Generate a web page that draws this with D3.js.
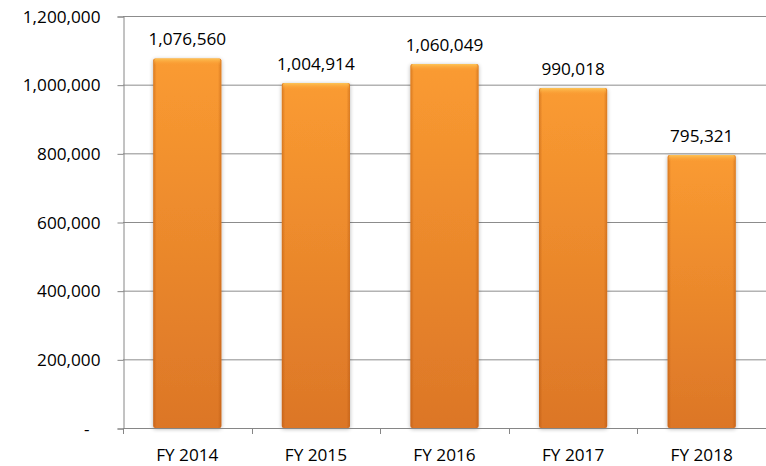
<!DOCTYPE html>
<html>
<head>
<meta charset="utf-8">
<script src="https://cdn.jsdelivr.net/npm/d3@7.9.0/dist/d3.min.js"></script>
<style>
  html, body { margin: 0; padding: 0; background: #fff; }
  svg text { font-family: "Open Sans", "Noto Sans", sans-serif; fill: #000; }
</style>
</head>
<body>
<div id="chart"></div>
<script>
/* ---------- data --------- */
const years  = ['FY 2014', 'FY 2015', 'FY 2016', 'FY 2017', 'FY 2018'];
const totals = [1076560, 1004914, 1060049, 990018, 795321];
const yTicks = [0, 200000, 400000, 600000, 800000, 1000000, 1200000];

/* ---------- layout --------- */
const W = 766, H = 466;
const area = { l: 123, r: 766, t: 16, b: 428 };

const svg = d3.select('#chart').append('svg')
  .attr('width', W).attr('height', H);

const x = d3.scaleBand().domain(years).range([area.l, area.r]).paddingInner(0.47).paddingOuter(0.235);
const xb = d3.scaleBand().domain(years).range([area.l, area.r]);   // tick boundaries
const y = d3.scaleLinear().domain([0, 1200000]).range([area.b, area.t]);

/* ---------- defs: bar shading --------- */
const defs = svg.append('defs');
const vg = defs.append('linearGradient').attr('id', 'barV')
  .attr('x1', 0).attr('y1', 0).attr('x2', 0).attr('y2', 1);
vg.append('stop').attr('offset', '0%').attr('stop-color', '#fa9b31');
vg.append('stop').attr('offset', '100%').attr('stop-color', '#dc7627');

const hg = defs.append('linearGradient').attr('id', 'barH')
  .attr('x1', 0).attr('y1', 0).attr('x2', 1).attr('y2', 0);
hg.append('stop').attr('offset', '0%').attr('stop-color', '#a84a08').attr('stop-opacity', 0.4);
hg.append('stop').attr('offset', '5%').attr('stop-color', '#a84a08').attr('stop-opacity', 0);
hg.append('stop').attr('offset', '95%').attr('stop-color', '#a84a08').attr('stop-opacity', 0);
hg.append('stop').attr('offset', '100%').attr('stop-color', '#a84a08').attr('stop-opacity', 0.4);

const tg = defs.append('linearGradient').attr('id', 'barTop')
  .attr('x1', 0).attr('y1', 0).attr('x2', 0).attr('y2', 1);
tg.append('stop').attr('offset', '0%').attr('stop-color', '#fdc457');
tg.append('stop').attr('offset', '100%').attr('stop-color', '#fa9b31').attr('stop-opacity', 0);

const sh = defs.append('filter').attr('id', 'shadow')
  .attr('x', '-20%').attr('y', '-10%').attr('width', '140%').attr('height', '120%');
sh.append('feGaussianBlur').attr('in', 'SourceAlpha').attr('stdDeviation', 2);
sh.append('feOffset').attr('dx', 0).attr('dy', 1).attr('result', 'b');
sh.append('feComponentTransfer').append('feFuncA').attr('type', 'linear').attr('slope', 0.3);
const mg = sh.append('feMerge');
mg.append('feMergeNode');
mg.append('feMergeNode').attr('in', 'SourceGraphic');

/* ---------- gridlines + axes --------- */
svg.append('g')
  .selectAll('line').data(yTicks.filter(d => d > 0)).join('line')
  .attr('x1', area.l).attr('x2', area.r)
  .attr('y1', d => y(d) + 0.5).attr('y2', d => y(d) + 0.5)
  .attr('stroke', '#8c8c8c').attr('stroke-width', 1);

const yAxis = svg.append('g').attr('transform', `translate(${area.l + 0.5},0.5)`)
  .call(d3.axisLeft(y).tickValues(yTicks).tickSize(6).tickPadding(17)
    .tickFormat(d => d === 0 ? '-' : d3.format(',')(d)));
yAxis.select('.domain').attr('stroke', '#868686');
yAxis.selectAll('.tick line').attr('stroke', '#868686');
yAxis.selectAll('.tick text').attr('font-size', 17.2).attr('font-family', '"Open Sans", sans-serif');
yAxis.selectAll('.tick text').filter(d => d === 0).attr('dx', -11);

/* ---------- bars --------- */
const bars = svg.append('g').selectAll('g').data(years).join('g');
bars.append('rect')
  .attr('x', d => x(d)).attr('width', x.bandwidth())
  .attr('y', (d, i) => y(totals[i])).attr('height', (d, i) => y(0) - y(totals[i]))
  .attr('rx', 2).attr('fill', 'url(#barV)').attr('filter', 'url(#shadow)');
bars.append('rect')
  .attr('x', d => x(d)).attr('width', x.bandwidth())
  .attr('y', (d, i) => y(totals[i])).attr('height', (d, i) => y(0) - y(totals[i]))
  .attr('rx', 2).attr('fill', 'url(#barH)');
bars.append('rect')
  .attr('x', d => x(d) + 1).attr('width', x.bandwidth() - 2)
  .attr('y', (d, i) => y(totals[i])).attr('height', 7)
  .attr('rx', 2).attr('fill', 'url(#barTop)');

/* value labels */
svg.append('g').selectAll('text').data(years).join('text')
  .attr('x', d => x(d) + x.bandwidth() / 2)
  .attr('y', (d, i) => y(totals[i]) - 13)
  .attr('text-anchor', 'middle').attr('font-size', 17.2)
  .text((d, i) => d3.format(',')(totals[i]));

/* ---------- x axis --------- */
svg.append('line')
  .attr('x1', area.l).attr('x2', area.r)
  .attr('y1', area.b + 0.5).attr('y2', area.b + 0.5)
  .attr('stroke', '#868686');
svg.append('g').selectAll('line').data(years).join('line')
  .attr('x1', d => Math.round(xb(d)) + 0.5).attr('x2', d => Math.round(xb(d)) + 0.5)
  .attr('y1', area.b).attr('y2', area.b + 6)
  .attr('stroke', '#868686');

svg.append('g').selectAll('text').data(years).join('text')
  .attr('x', d => xb(d) + xb.bandwidth() / 2)
  .attr('y', 461)
  .attr('text-anchor', 'middle').attr('font-size', 17.2)
  .text(d => d);
</script>
</body>
</html>
